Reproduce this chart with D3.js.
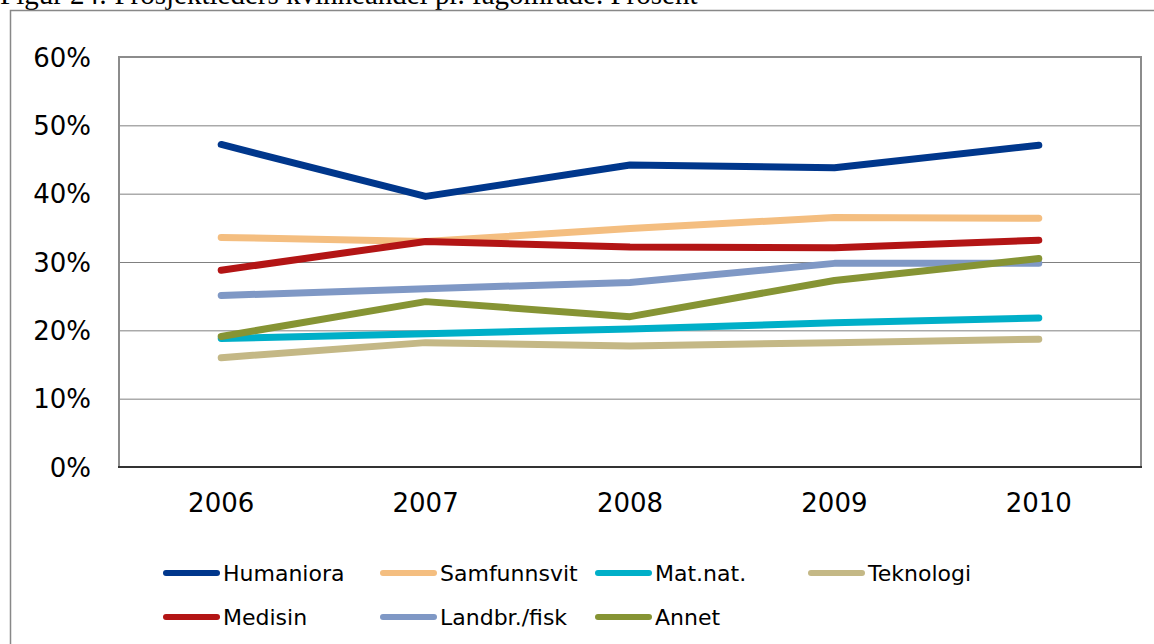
<!DOCTYPE html>
<html lang="no">

<head>
    <meta charset="UTF-8">
    <script src="https://d3js.org/d3.v7.min.js"></script>
    <title>Prosjektleders kvinneandel pr. fagområde</title>
    <style>
        body {
            margin: 0;
            background: #fff;
        }

        svg text {
            font-family: 'DejaVu Sans', Verdana, sans-serif;
            fill: #000;
        }
    </style>
</head>

<body>
    <svg id="chart" width="1154" height="644"></svg>
    <script>
        // Data
        const years = ['2006', '2007', '2008', '2009', '2010'];
        const yTicks = [0, 10, 20, 30, 40, 50, 60];

        const humaniora = [47.2, 39.6, 44.2, 43.8, 47.1];
        const samfunnsvit = [33.6, 33.0, 34.9, 36.5, 36.4];
        const matnat = [18.8, 19.5, 20.2, 21.1, 21.8];
        const teknologi = [16.0, 18.2, 17.7, 18.2, 18.7];
        const medisin = [28.8, 33.0, 32.2, 32.1, 33.2];
        const landbr = [25.1, 26.1, 27.0, 29.8, 29.8];
        const annet = [19.1, 24.2, 22.0, 27.3, 30.5];

        const seriesNames = ['Humaniora', 'Samfunnsvit', 'Mat.nat.', 'Teknologi', 'Medisin', 'Landbr./fisk', 'Annet'];
        const seriesValues = [humaniora, samfunnsvit, matnat, teknologi, medisin, landbr, annet];
        const seriesColors = ['#00378c', '#f4be80', '#00afc8', '#c4b886', '#b31515', '#7f98c5', '#869434'];

        const svg = d3.select('#chart');
        const margin = { top: 57, right: 13, bottom: 177, left: 119 },
            width = 1154 - margin.left - margin.right,
            height = 644 - margin.top - margin.bottom;

        // Title (cut off by the page edge, as in the source)
        svg.append('text')
            .attr('x', 0)
            .attr('y', 4)
            .style('font-family', "'Liberation Serif', 'Times New Roman', serif")
            .style('font-size', '29px')
            .text('Figur 24: Prosjektleders kvinneandel pr. fagområde. Prosent');

        // Outer chart frame
        svg.append('rect')
            .attr('x', 10.5)
            .attr('y', 10.5)
            .attr('width', 1200)
            .attr('height', 700)
            .attr('fill', 'none')
            .attr('stroke', '#888')
            .attr('stroke-width', 1.5);

        const g = svg.append('g').attr('transform', `translate(${margin.left},${margin.top})`);

        const x = d3.scaleBand().domain(years).range([0, width]);
        const y = d3.scaleLinear().domain([0, 60]).range([height, 0]);

        // Gridlines
        g.append('g')
            .call(d3.axisLeft(y).tickValues(yTicks.slice(1, -1)).tickSize(-width).tickFormat(''))
            .call(a => a.select('.domain').remove())
            .selectAll('line')
            .attr('stroke', '#808080')
            .attr('stroke-width', 1);

        // Plot area border
        g.append('path')
            .attr('d', `M0,${height}V0H${width}V${height}`)
            .attr('fill', 'none')
            .attr('stroke', '#8c8c8c')
            .attr('stroke-width', 2);

        g.append('line')
            .attr('x1', -1).attr('x2', width + 1)
            .attr('y1', height).attr('y2', height)
            .attr('stroke', '#333')
            .attr('stroke-width', 2);

        // Y axis labels
        g.append('g')
            .attr('transform', 'translate(-28,0)')
            .call(d3.axisLeft(y).tickValues(yTicks).tickSize(0).tickFormat(d => d + '%'))
            .call(a => a.select('.domain').remove())
            .selectAll('text')
            .attr('x', 0)
            .attr('dy', '0.35em')
            .style('font-size', '26px');

        // X axis labels
        g.append('g')
            .attr('transform', `translate(0,${height})`)
            .call(d3.axisBottom(x).tickSize(0))
            .call(a => a.select('.domain').remove())
            .selectAll('text')
            .attr('y', 36)
            .attr('dy', '0.35em')
            .style('font-size', '26px');

        // Lines
        const line = d3.line()
            .x((d, i) => x(years[i]) + x.bandwidth() / 2)
            .y(d => y(d));

        seriesValues.forEach((vals, i) => {
            g.append('path')
                .datum(vals)
                .attr('d', line)
                .attr('fill', 'none')
                .attr('stroke', seriesColors[i])
                .attr('stroke-width', 7)
                .attr('stroke-linecap', 'round')
                .attr('stroke-linejoin', 'round');
        });

        // Legend
        const legendX = [163, 380, 595, 808];
        const legendY = [573, 617];
        const legend = svg.append('g');
        seriesNames.forEach((name, i) => {
            const lx = legendX[i % 4], ly = legendY[Math.floor(i / 4)];
            legend.append('line')
                .attr('x1', lx + 3).attr('x2', lx + 54)
                .attr('y1', ly).attr('y2', ly)
                .attr('stroke', seriesColors[i])
                .attr('stroke-width', 6)
                .attr('stroke-linecap', 'round');
            legend.append('text')
                .attr('x', lx + 60)
                .attr('y', ly)
                .attr('dy', '0.35em')
                .style('font-size', '22px')
                .text(name);
        });
    </script>
</body>

</html>
